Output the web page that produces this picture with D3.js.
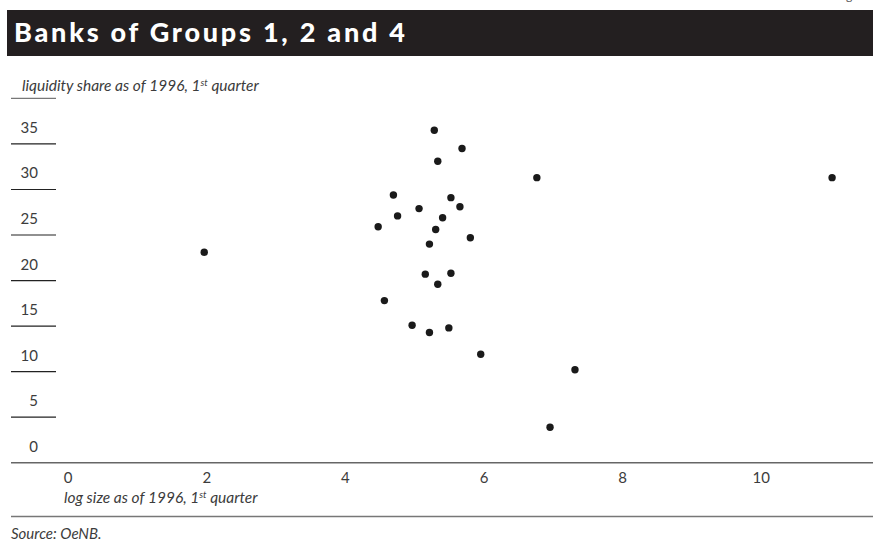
<!DOCTYPE html>
<html>
<head>
<meta charset="utf-8">
<script src="https://cdn.jsdelivr.net/npm/d3@7"></script>
<style>
  html, body { margin: 0; padding: 0; background: #fff; }
  svg { display: block; }
</style>
</head>
<body>
<svg id="chart" width="873" height="545"></svg>
<script>
// Log size (x) and liquidity share in % (y) per bank, 1996 Q1
const logSize = [1.97, 6.77, 11.03, 7.32, 6.96,
  5.29, 5.69, 5.34, 4.70, 5.53, 5.66, 5.07, 4.76, 5.41, 4.48, 5.31,
  5.81, 5.22, 5.53, 5.16, 5.34, 4.57, 4.97, 5.50, 5.22, 5.96];
const liquidityShare = [23.1, 31.3, 31.3, 10.2, 3.9,
  36.5, 34.5, 33.1, 29.4, 29.1, 28.1, 27.9, 27.1, 26.9, 25.9, 25.6,
  24.7, 24.0, 20.8, 20.7, 19.6, 17.8, 15.1, 14.8, 14.3, 11.9];
const xTicks = [0, 2, 4, 6, 8, 10, 12];
const yTicks = [0, 5, 10, 15, 20, 25, 30, 35, 40];

const title = "Banks of Groups 1, 2 and 4";
const yTitle = ["liquidity share as of 1996, 1", "st", " quarter"];
const xTitle = ["log size as of 1996, 1", "st", " quarter"];
const source = "Source: OeNB.";

const svg = d3.select("#chart");
const W = 873;

const x = d3.scaleLinear().domain([0, 12]).range([67.7, 899.3]);
const y = d3.scaleLinear().domain([0, 40]).range([462.7, 98.4]);

const numFont = "Lato, 'Open Sans', sans-serif";
const textCol = "#3c3c3c";

// small running header fragment
svg.append("text").attr("x", 846).attr("y", -0.5)
  .attr("font-family", numFont).attr("font-size", 12).attr("fill", "#555").text("g");

// title bar
svg.append("rect").attr("x", 7).attr("y", 10).attr("width", W - 7).attr("height", 46)
  .attr("fill", "#231f20");
svg.append("text").attr("x", 14).attr("y", 42)
  .attr("font-family", "Lato, sans-serif").attr("font-weight", 900)
  .attr("font-size", 27).attr("fill", "#fff")
  .attr("textLength", 391).attr("lengthAdjust", "spacing")
  .text(title);

// axis title with superscript
function titleText(tx, ty, parts, size) {
  const t = svg.append("text").attr("x", tx).attr("y", ty)
    .attr("font-family", numFont).attr("font-style", "italic")
    .attr("font-size", size).attr("fill", textCol);
  t.append("tspan").text(parts[0]);
  t.append("tspan").attr("font-size", size * 0.62).attr("dy", -5).text(parts[1]);
  t.append("tspan").attr("dy", 5).text(parts[2]);
  return t;
}

// y axis: short rules with the value written above each one
const yRows = svg.append("g");
yRows.selectAll("line").data(yTicks.filter(d => d > 0)).join("line")
  .attr("x1", 11).attr("x2", 56)
  .attr("y1", d => y(d)).attr("y2", d => y(d))
  .attr("stroke", d => d === 40 ? "#777" : "#222").attr("stroke-width", 1.2);
yRows.selectAll("text").data(yTicks.filter(d => d < 40)).join("text")
  .attr("x", 38).attr("y", d => y(d) - 11)
  .attr("text-anchor", "end")
  .attr("font-family", numFont)
  .attr("font-size", 15).attr("fill", textCol)
  .text(d => d);

titleText(22, 91, yTitle, 15.5);

// x axis labels and baseline
const xAxis = d3.axisBottom(x).tickValues(xTicks).tickSize(0).tickPadding(10);
const xg = svg.append("g").attr("transform", `translate(0,${y(0)})`).call(xAxis);
xg.select(".domain").remove();
xg.selectAll(".tick text")
  .attr("font-family", numFont)
  .attr("font-size", 15).attr("fill", textCol);

svg.append("line").attr("x1", 11).attr("x2", W)
  .attr("y1", y(0)).attr("y2", y(0))
  .attr("stroke", "#666").attr("stroke-width", 1.5);

titleText(64, 503, xTitle, 15.5);

svg.append("line").attr("x1", 11).attr("x2", W)
  .attr("y1", 516.5).attr("y2", 516.5)
  .attr("stroke", "#777").attr("stroke-width", 1.5);

svg.append("text").attr("x", 11).attr("y", 539)
  .attr("font-family", numFont).attr("font-style", "italic")
  .attr("font-size", 15).attr("fill", textCol).text(source);

// scatter points
svg.append("g").selectAll("circle")
  .data(logSize.map((v, i) => [v, liquidityShare[i]]))
  .join("circle")
  .attr("cx", d => x(d[0])).attr("cy", d => y(d[1]))
  .attr("r", 3.7).attr("fill", "#1a1a1a");
</script>
</body>
</html>
